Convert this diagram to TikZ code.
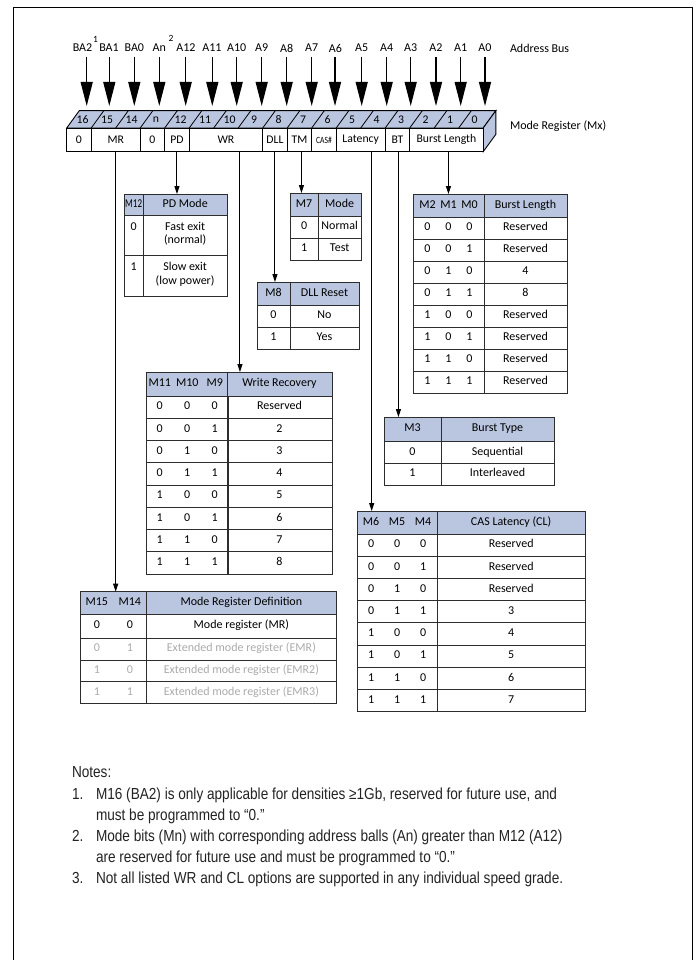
\documentclass[tikz,border=0pt]{standalone}
\usepackage{fontspec}
\usepackage{graphicx}
\setmainfont{Carlito}
\newfontfamily\notesfont[FakeStretch=0.85]{Liberation Sans}
\usetikzlibrary{arrows.meta}
\definecolor{hdr}{RGB}{186,198,224}
\definecolor{gridc}{RGB}{45,45,45}
\definecolor{greyt}{RGB}{170,170,170}
\definecolor{notec}{RGB}{35,35,35}
\newcommand\bitsc[4]{\makebox[#1pt]{#2}\makebox[#1pt]{#3}\makebox[#1pt]{#4}}
\newcommand\bitsb[3]{\makebox[#1pt]{#2}\makebox[#1pt]{#3}}
\begin{document}
\begin{tikzpicture}[x=1pt,y=-1pt,
  every node/.style={inner sep=0pt,outer sep=0pt},
  tf/.style={font=\fontsize{12}{14}\selectfont},
  cell/.style={draw=gridc,line width=0.8pt,anchor=north west,align=center,
    font=\fontsize{12}{13.5}\selectfont,execute at begin node={\strut}},
  hcell/.style={cell,fill=hdr},
  gcell/.style={cell,text=greyt},
  bus/.style={line width=1.2pt,-{Triangle[width=12pt,length=24pt]}},
  conn/.style={line width=1pt,-{Triangle[width=5pt,length=8pt]}},
  regcell/.style={draw=black,line width=0.9pt,fill=white,anchor=north west,
    minimum height=23.7pt,font=\fontsize{11.7}{13}\selectfont},
  notes/.style={font=\notesfont\fontsize{16}{21}\selectfont,text=notec,anchor=base west},
]
\useasboundingbox (0,0) rectangle (697,960);
\draw[line width=0.9pt] (13,960) -- (13,7) -- (692,7) -- (692,960);

% ---------- address bus ----------
\foreach \lab/\lx/\ax [count=\k from 0] in {BA2/82.5/86.7,BA1/109/109.3,BA0/134.3/134.3,An/159.3/159.3,A12/186/185.7,A11/212/212.3,A10/236.7/236.7,A9/261.7/261.7,A8/286.7/286.7,A7/311.7/311.7,A6/335.5/335,A5/361.7/361.7,A4/386.7/386.7,A3/410.7/410.7,A2/436/436,A1/460.7/460.7,A0/485/485}{
  \node[tf] (lab\k) at (\lx,48) {\lab};
  \coordinate (tip\k) at (\ax,106);
  \draw[bus,shorten <=5pt] (tip\k |- lab\k.south) -- (tip\k);
}
\node[font=\fontsize{9.5}{10}\selectfont] (sup1) at (95.5,39) {1};
\node[font=\fontsize{9.5}{10}\selectfont] (sup2) at (171,38.5) {2};
\node[tf,anchor=west] (busl) at (510,48) {Address Bus};

% ---------- register ----------
\draw[line width=0.9pt,fill=hdr] (66.7,128) -- (79.3,110.7) -- (495.8,110.7) -- (483.2,128) -- cycle;
\draw[line width=0.9pt,fill=hdr] (483.2,128) -- (495.8,110.7) -- (495.8,134.4) -- (483.2,151.7) -- cycle;
\foreach \k in {1,...,16}
  \draw[line width=0.8pt] ({66.7+24.5*\k},128) -- ({79.3+24.5*\k},110.7);
\foreach \n [count=\k from 0] in {16,15,14,n,12,11,10,9,8,7,6,5,4,3,2,1,0}
  \node[font=\fontsize{11.7}{13}\selectfont] (bit\k) at ({82.5+24.5*\k},119.6) {\n};
\foreach \k/\s/\t/\nm in {0/1/0/rA,1/2/MR/rMR,3/1/0/rB,4/1/PD/rPD,5/3/WR/rWR,8/1/DLL/rDLL,9/1/TM/rTM,11/2/Latency/rLat,13/1/BT/rBT,14/3/Burst Length/rBL}
  \node[regcell,minimum width=24.5pt*\s] (\nm) at ({66.7+24.5*\k},128) {\t};
\node[regcell,minimum width=24.5pt,font=\fontsize{9.5}{10}\selectfont] (rCAS) at ({66.7+24.5*10},128) {\scalebox{0.8}[1]{CAS\#}};
\node[tf,anchor=west] (regl) at (510,126) {Mode Register (Mx)};

% ---------- PD table ----------
\node[hcell,minimum width=19.3pt,minimum height=21pt] (pdHa) at (124,194) {\scalebox{0.75}[1]{M12}};
\node[hcell,minimum width=83.7pt,minimum height=21pt] (pdHb) at (143.3,194) {PD Mode};
\node[cell,minimum width=19.3pt,minimum height=40pt] (pdAa) at (124,215) {0\\\mbox{}};
\node[cell,minimum width=83.7pt,minimum height=40pt] (pdAb) at (143.3,215) {Fast exit\\(normal)};
\node[cell,minimum width=19.3pt,minimum height=41pt] (pdBa) at (124,255) {1\\\mbox{}};
\node[cell,minimum width=83.7pt,minimum height=41pt] (pdBb) at (143.3,255) {Slow exit\\(low power)};

% ---------- M7 table ----------
\node[hcell,minimum width=28.3pt,minimum height=23pt] (m7Ha) at (290,193) {M7};
\node[hcell,minimum width=42.7pt,minimum height=23pt] (m7Hb) at (318.3,193) {Mode};
\foreach \a/\v [count=\i from 0] in {0/Normal,1/Test}{
  \node[cell,minimum width=28.3pt,minimum height=22pt] (m7A\i) at (290,{216+22*\i}) {\a};
  \node[cell,minimum width=42.7pt,minimum height=22pt] (m7B\i) at (318.3,{216+22*\i}) {\v};
}

% ---------- DLL table ----------
\node[hcell,minimum width=33pt,minimum height=23pt] (dllHa) at (257,282) {M8};
\node[hcell,minimum width=69pt,minimum height=23pt] (dllHb) at (290,282) {DLL Reset};
\foreach \a/\v [count=\i from 0] in {0/No,1/Yes}{
  \node[cell,minimum width=33pt,minimum height=22pt] (dllA\i) at (257,{305+22*\i}) {\a};
  \node[cell,minimum width=69pt,minimum height=22pt] (dllB\i) at (290,{305+22*\i}) {\v};
}

% ---------- Burst length table ----------
\node[hcell,minimum width=71pt,minimum height=23pt] (blHa) at (413,194) {\bitsc{21}{M2}{M1}{M0}};
\node[hcell,minimum width=83pt,minimum height=23pt] (blHb) at (484,194) {Burst Length};
\foreach \a/\b/\c/\v [count=\i from 0] in {0/0/0/Reserved,0/0/1/Reserved,0/1/0/4,0/1/1/8,1/0/0/Reserved,1/0/1/Reserved,1/1/0/Reserved,1/1/1/Reserved}{
  \node[cell,minimum width=71pt,minimum height=22pt] (blA\i) at (413,{217+22*\i}) {\bitsc{21}{\a}{\b}{\c}};
  \node[cell,minimum width=83pt,minimum height=22pt] (blB\i) at (484,{217+22*\i}) {\v};
}

% ---------- Burst type table ----------
\node[hcell,minimum width=57pt,minimum height=24.5pt] (btHa) at (384,417) {M3};
\node[hcell,minimum width=113pt,minimum height=24.5pt] (btHb) at (441,417) {Burst Type};
\foreach \a/\v [count=\i from 0] in {0/Sequential,1/Interleaved}{
  \node[cell,minimum width=57pt,minimum height=21.7pt] (btA\i) at (384,{441.5+21.7*\i}) {\a};
  \node[cell,minimum width=113pt,minimum height=21.7pt] (btB\i) at (441,{441.5+21.7*\i}) {\v};
}

% ---------- Write recovery table ----------
\node[hcell,minimum width=81pt,minimum height=24pt] (wrHa) at (146,372) {\bitsc{27.5}{M11}{M10}{M9}};
\node[hcell,minimum width=105pt,minimum height=24pt] (wrHb) at (227,372) {Write Recovery};
\foreach \a/\b/\c/\v [count=\i from 0] in {0/0/0/Reserved,0/0/1/2,0/1/0/3,0/1/1/4,1/0/0/5,1/0/1/6,1/1/0/7,1/1/1/8}{
  \node[cell,minimum width=81pt,minimum height=22.25pt] (wrA\i) at (146,{396+22.25*\i}) {\bitsc{27.5}{\a}{\b}{\c}};
  \node[cell,minimum width=105pt,minimum height=22.25pt] (wrB\i) at (227,{396+22.25*\i}) {\v};
}

% ---------- CAS latency table ----------
\node[hcell,minimum width=80.3pt,minimum height=23pt] (casHa) at (357,511) {\bitsc{26}{M6}{M5}{M4}};
\node[hcell,minimum width=147.7pt,minimum height=23pt] (casHb) at (437.3,511) {CAS Latency (CL)};
\foreach \a/\b/\c/\v [count=\i from 0] in {0/0/0/Reserved,0/0/1/Reserved,0/1/0/Reserved,0/1/1/3,1/0/0/4,1/0/1/5,1/1/0/6,1/1/1/7}{
  \node[cell,minimum width=80.3pt,minimum height=22.2pt] (casA\i) at (357,{534+22.2*\i}) {\bitsc{26}{\a}{\b}{\c}};
  \node[cell,minimum width=147.7pt,minimum height=22.2pt] (casB\i) at (437.3,{534+22.2*\i}) {\v};
}

% ---------- Mode register definition table ----------
\node[hcell,minimum width=66.7pt,minimum height=22.3pt] (mrHa) at (80,591.7) {\bitsb{33}{M15}{M14}};
\node[hcell,minimum width=189.3pt,minimum height=22.3pt] (mrHb) at (146.7,591.7) {Mode Register Definition};
\node[cell,minimum width=66.7pt,minimum height=24.3pt] (mrA0) at (80,614) {\bitsb{33}{0}{0}};
\node[cell,minimum width=189.3pt,minimum height=24.3pt] (mrB0) at (146.7,614) {Mode register (MR)};
\foreach \a/\b/\v [count=\i from 1] in {0/1/Extended mode register (EMR),1/0/Extended mode register (EMR2),1/1/Extended mode register (EMR3)}{
  \node[gcell,minimum width=66.7pt,minimum height=21.7pt] (mrA\i) at (80,{616.6+21.7*\i}) {\bitsb{33}{\a}{\b}};
  \node[gcell,minimum width=189.3pt,minimum height=21.7pt] (mrB\i) at (146.7,{616.6+21.7*\i}) {\v};
}

% ---------- connectors ----------
\draw[conn] (rMR.south) -- (rMR.south |- mrHa.north);
\draw[conn] (rPD.south) -- (rPD.south |- pdHb.north);
\draw[conn] ([xshift=14pt]rWR.south) -- ([xshift=14pt]rWR.south |- wrHb.north);
\draw[conn] (rDLL.south) -- (rDLL.south |- dllHa.north);
\draw[conn] ([xshift=2pt]rTM.south) -- ([xshift=2pt]rTM.south |- m7Ha.north);
\draw[conn] ([xshift=11pt]rLat.south) -- ([xshift=11pt]rLat.south |- casHa.north);
\draw[conn] ([xshift=1pt]rBT.south) -- ([xshift=1pt]rBT.south |- btHa.north);
\draw[conn] ([xshift=2pt]rBL.south) -- ([xshift=2pt]rBL.south |- blHa.north);

% ---------- notes ----------
\node[notes] (nt0) at (72,777) {Notes:};
\node[notes] (nt1) at (72,799) {1.};
\node[notes] (nt1a) at (96,799) {M16 (BA2) is only applicable for densities ≥1Gb, reserved for future use, and};
\node[notes] (nt1b) at (96,820) {must be programmed to “0.”};
\node[notes] (nt2) at (72,841) {2.};
\node[notes] (nt2a) at (96,841) {Mode bits (Mn) with corresponding address balls (An) greater than M12 (A12)};
\node[notes] (nt2b) at (96,862) {are reserved for future use and must be programmed to “0.”};
\node[notes] (nt3) at (72,883) {3.};
\node[notes] (nt3a) at (96,883) {Not all listed WR and CL options are supported in any individual speed grade.};
\end{tikzpicture}
\end{document}
